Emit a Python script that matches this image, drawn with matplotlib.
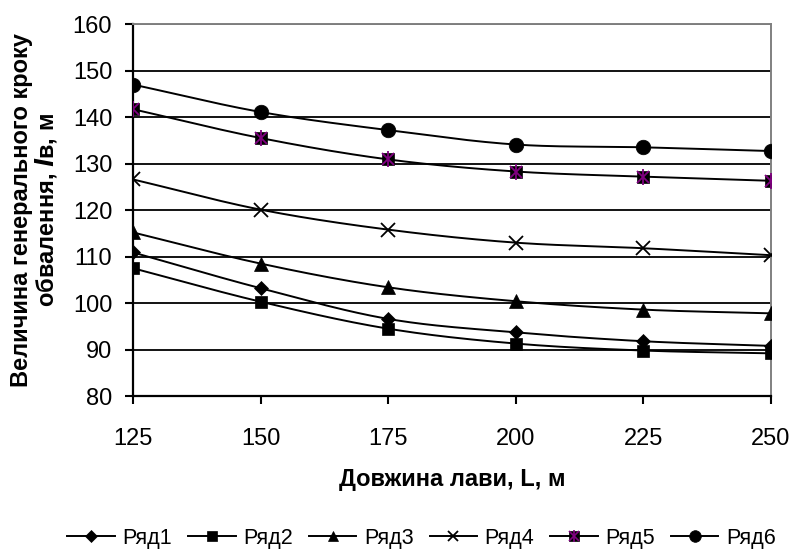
import numpy as np
import matplotlib.pyplot as plt
from matplotlib.legend_handler import HandlerTuple

plt.rcParams['font.family'] = ['Liberation Sans', 'DejaVu Sans']

# довжина лави, м
L = [125, 150, 175, 200, 225, 250]

# величина генерального кроку обвалення для кожного ряду, м
ryad1 = [110.9, 103.2, 96.6, 93.7, 91.8, 90.8]
ryad2 = [107.5, 100.3, 94.5, 91.3, 89.8, 89.2]
ryad3 = [115.2, 108.5, 103.4, 100.4, 98.6, 97.8]
ryad4 = [126.6, 120.1, 115.8, 113.0, 111.8, 110.3]
ryad5 = [141.7, 135.5, 130.9, 128.3, 127.2, 126.3]
ryad6 = [147.0, 141.1, 137.2, 134.1, 133.5, 132.7]

names = ['Ряд1', 'Ряд2', 'Ряд3', 'Ряд4', 'Ряд5', 'Ряд6']


#------------------
# згладжена крива через точки (Catmull-Rom), як "smooth line" в Excel
def smooth(x, y, n=30):
    x = np.asarray(x, float)
    y = np.asarray(y, float)
    px = np.concatenate([[2 * x[0] - x[1]], x, [2 * x[-1] - x[-2]]])
    py = np.concatenate([[2 * y[0] - y[1]], y, [2 * y[-1] - y[-2]]])
    xs, ys = [], []
    t = np.linspace(0, 1, n)
    for i in range(1, len(px) - 2):
        for p, out in ((px, xs), (py, ys)):
            p0, p1, p2, p3 = p[i - 1], p[i], p[i + 1], p[i + 2]
            out.append(0.5 * ((2 * p1) + (-p0 + p2) * t
                              + (2 * p0 - 5 * p1 + 4 * p2 - p3) * t ** 2
                              + (-p0 + 3 * p1 - 3 * p2 + p3) * t ** 3))
    return np.concatenate(xs), np.concatenate(ys)


fig = plt.figure(figsize=(7.94, 5.54), dpi=100)
ax = fig.add_axes([0.1675, 0.285, 0.8035, 0.6715])

series = [ryad1, ryad2, ryad3, ryad4, ryad5, ryad6]
markers = ['D', 's', '^', 'x', 's', 'o']
msizes = [7.5, 9, 9.5, 9.5, 9, 10.5]

for vals, m, ms in zip(series, markers, msizes):
    sx, sy = smooth(L, vals)
    ax.plot(sx, sy, color='black', lw=1.4, zorder=3)
    # маркери у точках даних
    ax.plot(L, vals, ls='none', marker=m, markersize=ms,
            markeredgewidth=1.3 if m == 'x' else 0.5,
            markerfacecolor='black', markeredgecolor='black', zorder=4)

# Ряд5: чорний квадрат з фіолетовою зірочкою
ax.plot(L, ryad5, ls='none', marker='x', markersize=8.5,
        markeredgewidth=1.3, color='#800080', zorder=5)
ax.plot(L, ryad5, ls='none', marker='|', markersize=11,
        markeredgewidth=1.3, color='#800080', zorder=5)

ax.set_xlim(125, 250)
ax.set_ylim(80, 160)
ax.set_xticks(L)
ax.set_yticks(range(80, 161, 10))
ax.yaxis.grid(True, color='black', lw=1.3)
ax.set_axisbelow(True)

for s in ['left', 'bottom']:
    ax.spines[s].set_color('black')
    ax.spines[s].set_linewidth(1.6)
for s in ['right', 'top']:
    ax.spines[s].set_color('#808080')
    ax.spines[s].set_linewidth(1.4)

ax.tick_params(axis='both', direction='out', length=6, width=1.5,
               labelsize=17, colors='black')
ax.tick_params(axis='x', pad=17)
ax.tick_params(axis='y', pad=9)

ax.set_xlabel('Довжина лави, L, м', fontsize=17, fontweight='bold',
              labelpad=13)
ax.set_ylabel('Величина генерального кроку\nобвалення, $\\mathbfit{l}$в, м',
              fontsize=17, fontweight='bold', labelpad=10, linespacing=1.0)

# легенда під графіком
leg_lines = []
for m, ms in zip(markers, msizes):
    hl, = ax.plot([], [], color='black', lw=1.4, marker=m,
                  markersize=ms * 0.8, markeredgewidth=1.3 if m == 'x' else 0.5,
                  markerfacecolor='black', markeredgecolor='black')
    leg_lines.append(hl)
hx, = ax.plot([], [], ls='none', marker='x', markersize=6.5,
              markeredgewidth=1.2, color='#800080')
hv, = ax.plot([], [], ls='none', marker='|', markersize=8,
              markeredgewidth=1.2, color='#800080')
leg_lines[4] = (leg_lines[4], hx, hv)

fig.legend(leg_lines, names, loc='lower center', bbox_to_anchor=(0.531, -0.026),
           ncol=6, frameon=False, fontsize=15.5, handlelength=2.2,
           handletextpad=0.35, columnspacing=0.75,
           handler_map={tuple: HandlerTuple(ndivide=1)})

fig.savefig('out.png', dpi=100)
